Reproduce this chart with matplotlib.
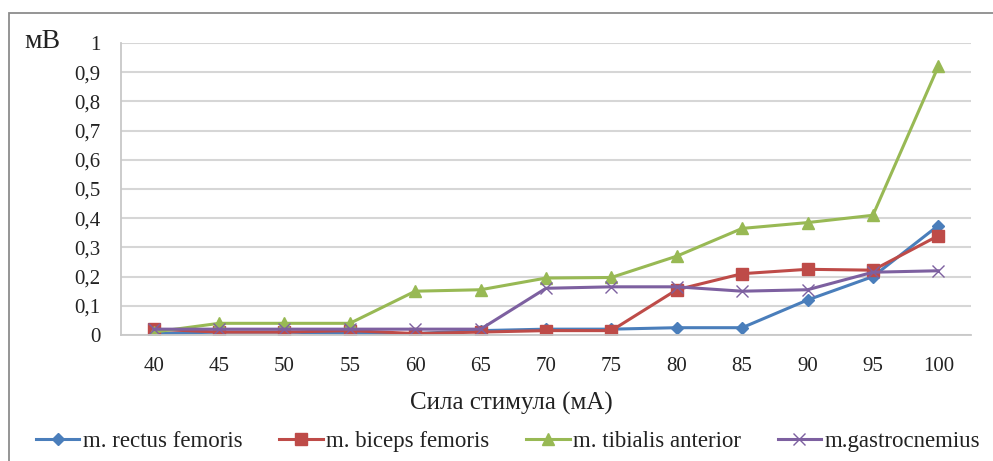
import matplotlib
matplotlib.use("Agg")
import matplotlib.pyplot as plt
from matplotlib.patches import Rectangle
from matplotlib.ticker import FuncFormatter

plt.rcParams['font.family'] = ['Liberation Serif', 'DejaVu Serif']

# Stimulus strength (mA) and response amplitudes (mV)
stimulus = [40, 45, 50, 55, 60, 65, 70, 75, 80, 85, 90, 95, 100]
rectus_femoris = [0.005, 0.01, 0.01, 0.005, 0.005, 0.015, 0.02, 0.02, 0.025, 0.025, 0.12, 0.20, 0.375]
biceps_femoris = [0.02, 0.01, 0.01, 0.015, 0.005, 0.01, 0.015, 0.015, 0.155, 0.21, 0.225, 0.222, 0.34]
tibialis_anterior = [0.01, 0.04, 0.04, 0.04, 0.15, 0.155, 0.195, 0.197, 0.27, 0.365, 0.385, 0.41, 0.92]
gastrocnemius = [0.02, 0.02, 0.02, 0.02, 0.02, 0.02, 0.16, 0.165, 0.165, 0.15, 0.155, 0.215, 0.22]

series_names = ["m. rectus femoris", "m. biceps femoris", "m. tibialis anterior", "m.gastrocnemius"]
y_ticks = [0, 0.1, 0.2, 0.3, 0.4, 0.5, 0.6, 0.7, 0.8, 0.9, 1]

W, H = 993, 461
fig = plt.figure(figsize=(W / 100, H / 100), dpi=100)

# outer chart frame
fig.patches.append(Rectangle((8.5 / W, -0.05), 1.1, 1 - 13 / H + 0.05,
                             transform=fig.transFigure, fill=False,
                             edgecolor="#8c8c8c", linewidth=1.3))

ax = fig.add_axes([121 / W, 1 - 335 / H, (971 - 121) / W, (335 - 43) / H])

x = list(range(len(stimulus)))
styles = [
    (rectus_femoris, "#4a7ebb", "D", 6, None),
    (biceps_femoris, "#be4b48", "s", 8.5, None),
    (tibialis_anterior, "#98b954", "^", 9, None),
    (gastrocnemius, "#7d60a0", "x", 9, 1.0),
]
for (vals, color, marker, ms, mew), name in zip(styles, series_names):
    kw = dict(color=color, marker=marker, markersize=ms, linewidth=2.2, label=name)
    if mew is not None:
        kw["markeredgewidth"] = mew
    ax.plot(x, vals, **kw)

ax.set_xlim(-0.5, len(stimulus) - 0.5)
ax.set_ylim(0, 1)
ax.set_yticks(y_ticks)
ax.yaxis.set_major_formatter(FuncFormatter(
    lambda v, p: ("%g" % round(v, 1)).replace(".", ",")))
ax.set_xticks(x)
ax.set_xticklabels([str(s) for s in stimulus])
ax.tick_params(axis="both", length=0, labelsize=15, colors="#222222")
ax.tick_params(axis="y", pad=15)
ax.tick_params(axis="x", pad=16)

ax.grid(axis="y", color="#d6d6d6", linewidth=1.5)
ax.set_axisbelow(True)
for side in ("top", "right"):
    ax.spines[side].set_visible(False)
for side in ("left", "bottom"):
    ax.spines[side].set_color("#c8c8c8")
    ax.spines[side].set_linewidth(1.3)

ax.set_xlabel("Сила стимула (мА)", fontsize=18, color="#222222")
ax.xaxis.label.set_verticalalignment("center")
ax.xaxis.set_label_coords(0.459, -0.233)
fig.text(24 / W, 1 - 41 / H, "мВ", fontsize=20, color="#222222", va="center", ha="left")

fig.legend(loc="center", bbox_to_anchor=(508 / W, 1 - 441 / H), ncol=4, frameon=False,
           fontsize=16.5, handlelength=1.9, handletextpad=0.15, columnspacing=1.6,
           labelcolor="#222222")

fig.savefig("out.png", dpi=100)
